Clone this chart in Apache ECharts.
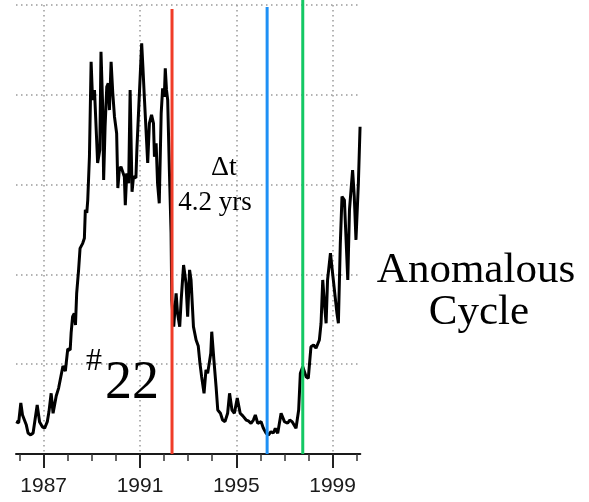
<!DOCTYPE html>
<html>
<head>
<meta charset="utf-8">
<script src="https://cdn.jsdelivr.net/npm/echarts@6/dist/echarts.min.js"></script>
<style>html,body{margin:0;padding:0;background:#fff}#c{width:589px;height:502px}</style>
</head>
<body>
<div id="c"></div>
<script>
const years = [
1985.85,1985.96,1986.05,1986.12,1986.28,1986.35,1986.46,1986.56,1986.63,1986.73,
1986.83,1986.95,1987.04,1987.15,1987.22,1987.31,1987.39,1987.52,1987.62,1987.71,
1987.80,1987.90,1988.00,1988.10,1988.14,1988.20,1988.27,1988.32,1988.37,1988.45,
1988.51,1988.62,1988.69,1988.73,1988.79,1988.83,1988.90,1988.97,1989.03,1989.11,
1989.20,1989.24,1989.33,1989.38,1989.45,1989.49,1989.55,1989.62,1989.68,1989.73,
1989.80,1989.87,1989.94,1990.03,1990.08,1990.14,1990.21,1990.28,1990.35,1990.39,
1990.45,1990.53,1990.59,1990.67,1990.73,1990.83,1990.87,1990.95,1991.07,1991.12,
1991.18,1991.25,1991.32,1991.39,1991.48,1991.56,1991.60,1991.67,1991.73,1991.80,
1991.88,1991.94,1992.01,1992.05,1992.10,1992.15,1992.22,1992.29,1992.32,1992.40,
1992.50,1992.56,1992.65,1992.71,1992.81,1992.91,1992.98,1993.06,1993.12,1993.22,
1993.33,1993.42,1993.49,1993.56,1993.66,1993.74,1993.81,1993.94,1993.98,1994.07,
1994.16,1994.23,1994.34,1994.43,1994.53,1994.64,1994.72,1994.82,1994.92,1995.04,
1995.16,1995.27,1995.41,1995.50,1995.61,1995.71,1995.79,1995.89,1996.03,1996.12,
1996.24,1996.33,1996.44,1996.54,1996.62,1996.72,1996.86,1997.00,1997.13,1997.22,
1997.32,1997.48,1997.59,1997.66,1997.76,1997.90,1997.99,1998.10,1998.21,1998.31,
1998.45,1998.52,1998.59,1998.66,1998.73,1998.79,1998.91,1999.00,1999.07,1999.18,
1999.24,1999.32,1999.39,1999.49,1999.56,1999.63,1999.70,1999.83,1999.90,1999.97,
2000.07,2000.14
];
const values = [
18.0,17.4,28.4,21.7,16.1,11.7,10.6,11.7,10.6,27.3,
17.8,15.0,14.3,18.0,23.6,33.8,22.7,32.3,36.7,42.9,
49.0,46.2,58.5,57.9,67.4,76.4,78.3,71.8,89.5,102.5,
114.5,117.3,120.1,135.9,134.2,141.4,165.5,218.4,197.1,202.7,
174.8,162.0,169.3,224.0,193.4,152.6,182.2,204.5,206.4,191.5,
218.4,200.8,187.8,178.6,148.1,158.1,160.0,160.9,154.4,138.6,
156.3,150.7,202.7,146.0,154.4,153.7,169.3,193.4,228.6,215.6,
198.9,180.4,162.0,184.1,188.8,184.1,165.5,173.0,150.7,139.6,
189.7,203.6,198.9,214.8,202.7,197.1,158.1,123.1,85.7,70.9,
89.5,78.3,70.9,85.7,105.2,95.2,76.4,102.5,96.9,70.9,
63.5,60.1,50.5,43.0,33.8,46.8,44.9,56.1,68.1,52.3,
37.5,24.5,22.7,18.9,18.0,22.7,33.8,24.5,22.7,31.2,
22.7,21.2,18.9,18.4,17.1,18.9,21.7,17.1,18.0,14.5,
11.5,10.6,12.4,11.7,14.3,11.5,22.7,18.0,17.1,18.9,
18.0,14.3,24.5,44.9,48.6,43.0,42.1,59.7,60.7,58.9,
63.5,72.8,96.9,83.9,72.8,96.9,111.8,100.6,100.6,78.3,
72.8,117.3,143.3,141.4,142.4,96.9,135.9,158.1,143.3,119.2,
150.7,182.2
];
const tickYears = [1986,1987,1988,1989,1990,1991,1992,1993,1994,1995,1996,1997,1998,1999,2000];
const labelYears = [1987,1991,1995,1999];
const markerYears = [1992.33, 1996.28, 1997.76];
const markerTops = [247.8, 248.9, 252.8];
const markerColors = ['#f03c28', '#1e90f5', '#14c864'];

const xMin = 1985.85, xMax = 2000.15;
const gridStyle = {type: [1.5, 3.5], color: '#9a9a9a', width: 1.5};

const series = [{
  type: 'line',
  data: years.map((y, i) => [y, values[i]]),
  symbol: 'none',
  lineStyle: {color: '#000', width: 3},
  z: 3,
  silent: true
}];
markerYears.forEach((x, i) => {
  series.push({
    type: 'line',
    data: [[x, 0], [x, markerTops[i]]],
    symbol: 'none',
    clip: false,
    lineStyle: {color: markerColors[i], width: 3},
    z: 5,
    silent: true
  });
});

const serif = '"Liberation Serif", "Times New Roman", serif';
function txt(text, x, y, size) {
  return {type: 'text', x: x, y: y, z: 10,
    style: {text: text, fontSize: size, fontFamily: serif, fill: '#000', align: 'center', verticalAlign: 'middle'}};
}

const chart = echarts.init(document.getElementById('c'));
chart.setOption({
  animation: false,
  backgroundColor: '#fff',
  grid: {left: 16, right: 228.7, top: 5, bottom: 48, containLabel: false},
  xAxis: [{
    type: 'value', min: xMin, max: xMax,
    axisLine: {show: true, onZero: false, lineStyle: {color: '#1a1a1a', width: 2}},
    axisTick: {show: true, customValues: tickYears, length: 7, lineStyle: {color: '#333', width: 1.5}},
    axisLabel: {show: true, customValues: labelYears, margin: 22, fontSize: 21,
      fontFamily: '"Liberation Sans", Arial, sans-serif', color: '#1a1a1a', formatter: v => String(Math.round(v))},
    splitLine: {show: false}
  }, {
    type: 'value', min: xMin, max: xMax, position: 'bottom',
    axisLine: {show: false, onZero: false},
    axisTick: {show: true, customValues: labelYears, length: 14, lineStyle: {color: '#222', width: 2}},
    axisLabel: {show: false},
    splitLine: {show: true, lineStyle: gridStyle}
  }],
  yAxis: {
    type: 'value', min: 0, max: 250, interval: 50,
    axisLine: {show: false}, axisTick: {show: false}, axisLabel: {show: false},
    splitLine: {show: true, lineStyle: gridStyle}
  },
  series: series,
  graphic: [
    txt('Δt', 224, 168, 28),
    txt('4.2 yrs', 215, 203, 27),
    txt('#', 94, 362, 32),
    txt('22', 132, 384, 54),
    txt('Anomalous', 476, 271, 43),
    txt('Cycle', 479, 313, 43)
  ]
});
</script>
</body>
</html>
